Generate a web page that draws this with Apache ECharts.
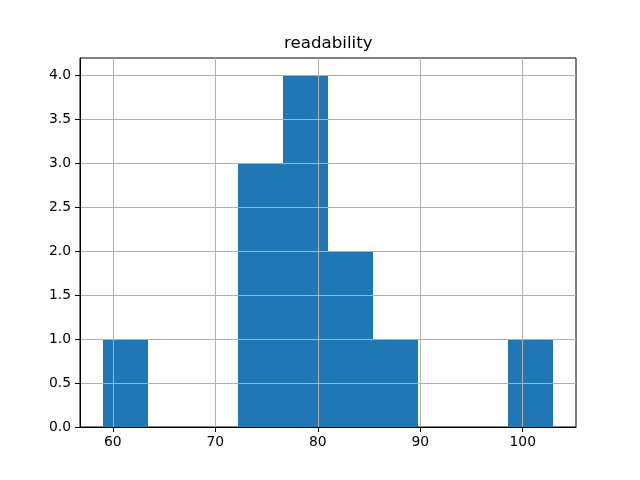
<!DOCTYPE html>
<html>
<head>
<meta charset="utf-8">
<script src="https://cdn.jsdelivr.net/npm/echarts@6/dist/echarts.min.js"></script>
<style>html,body{margin:0;padding:0;background:#fff;}#chart{width:640px;height:480px;}</style>
</head>
<body>
<div id="chart"></div>
<script>
const titleText = "readability";
const binEdges = [59.0, 63.4, 67.8, 72.2, 76.6, 81.0, 85.4, 89.8, 94.2, 98.6, 103.0];
const counts = [1, 0, 0, 3, 4, 2, 1, 0, 0, 1];
const xTicks = [60, 70, 80, 90, 100];
const yTicks = [0, 0.5, 1.0, 1.5, 2.0, 2.5, 3.0, 3.5, 4.0];

const data = counts.map((c, i) => [binEdges[i], binEdges[i + 1], c]);
const xMin = 56.8, xMax = 105.2, yMax = 4.2;
const font = 'DejaVu Sans';

const chart = echarts.init(document.getElementById('chart'), null, {renderer: 'canvas'});
chart.setOption({
  animation: false,
  backgroundColor: '#ffffff',
  title: {
    text: titleText,
    left: 284, top: 35, padding: 0,
    textStyle: {fontFamily: font, fontSize: 16.67, fontWeight: 'normal', color: '#000'}
  },
  grid: {
    left: 80, right: 64, top: 58, bottom: 53,
    show: true, borderColor: '#000', borderWidth: 1, backgroundColor: 'transparent'
  },
  xAxis: {
    type: 'value', min: xMin, max: xMax, z: 10,
    axisLine: {show: true, onZero: false, lineStyle: {color: '#000', width: 1}},
    axisTick: {show: true, length: 5, lineStyle: {color: '#000', width: 1}, customValues: xTicks},
    axisLabel: {customValues: xTicks, margin: 8, fontFamily: font, fontSize: 13.9, color: '#000'},
    splitLine: {show: true, lineStyle: {color: '#b0b0b0', width: 1}}
  },
  yAxis: {
    type: 'value', min: 0, max: yMax, z: 10,
    axisLine: {show: true, lineStyle: {color: '#000', width: 1}},
    axisTick: {show: true, length: 5, lineStyle: {color: '#000', width: 1}, customValues: yTicks},
    axisLabel: {customValues: yTicks, margin: 9, fontFamily: font, fontSize: 13.9, color: '#000',
      formatter: v => v.toFixed(1)},
    splitLine: {show: true, lineStyle: {color: '#b0b0b0', width: 1}}
  },
  series: [{
    type: 'custom',
    z: 1,
    data: data,
    encode: {x: [0, 1], y: 2},
    renderItem: function (params, api) {
      const p1 = api.coord([api.value(0), api.value(2)]);
      const p2 = api.coord([api.value(1), 0]);
      const x0 = Math.round(p1[0]), x1 = Math.round(p2[0]);
      const y0 = Math.round(p1[1]), y1 = Math.round(p2[1]);
      return {
        type: 'rect',
        shape: {x: x0, y: y0, width: x1 - x0, height: y1 - y0},
        style: {fill: '#1f77b4'}
      };
    }
  }]
});
</script>
</body>
</html>
